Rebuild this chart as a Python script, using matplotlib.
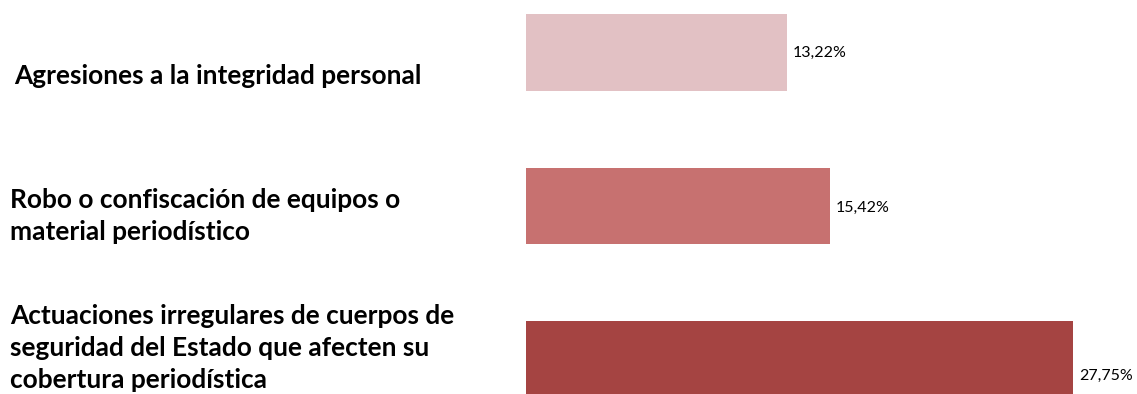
import matplotlib
matplotlib.use('Agg')
import matplotlib.pyplot as plt

categorias = ['Agresiones a la integridad personal',
              'Robo o confiscación de equipos o\nmaterial periodístico',
              'Actuaciones irregulares de cuerpos de\nseguridad del Estado que afecten su\ncobertura periodística']
valores = [13.22, 15.42, 27.75]
etiquetas = ['13,22%', '15,42%', '27,75%']
colores = ['#E2C1C4', '#C77170', '#A54442']

plt.rcParams['font.family'] = ['Lato', 'DejaVu Sans']

fig = plt.figure(figsize=(11.37, 3.94), dpi=100)
ax = fig.add_axes([526 / 1137, 0, 611 / 1137, 1])
pos = list(range(len(valores)))
ax.barh(pos, valores, height=0.5, color=colores)
ax.set_xlim(0, 31.0)
ax.set_ylim(2.225, -0.342)
ax.axis('off')

# etiquetas de valor, un poco desplazadas como en el original
dy = [0.0, 0.01, 0.11]
for p, v, t, d in zip(pos, valores, etiquetas, dy):
    ax.text(v + 0.3, p + d, t, va='center', ha='left', fontsize=11.5)

# etiquetas de categoria a la izquierda (posiciones en pixeles de figura)
yc = [76, 216, 348]
xc = [14, 10, 10]
for c, y, x in zip(categorias, yc, xc):
    fig.text(x / 1137, 1 - y / 394, c, ha='left', va='center',
             fontsize=18.9, fontweight='bold', linespacing=1.42)

fig.savefig('out.png', dpi=100)
